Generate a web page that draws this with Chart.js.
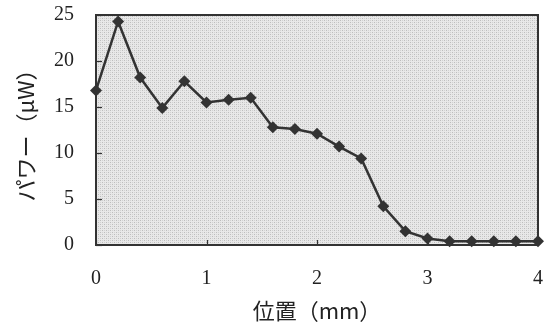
<!DOCTYPE html>
<html>
<head>
<meta charset="utf-8">
<script src="https://cdn.jsdelivr.net/npm/chart.js@4/dist/chart.umd.min.js"></script>
<style>
  html, body { margin: 0; padding: 0; background: #fff; }
  #wrap { width: 557px; height: 329px; }
</style>
</head>
<body>
<div id="wrap"><canvas id="c" width="557" height="329"></canvas></div>
<script>
// Position along the sample (mm) and measured power (µW)
const positions = [0, 0.2, 0.4, 0.6, 0.8, 1.0, 1.2, 1.4, 1.6, 1.8, 2.0, 2.2, 2.4, 2.6, 2.8, 3.0, 3.2, 3.4, 3.6, 3.8, 4.0];
const power = [16.8, 24.3, 18.2, 14.9, 17.8, 15.5, 15.8, 16.0, 12.8, 12.6, 12.1, 10.7, 9.4, 4.2, 1.5, 0.7, 0.4, 0.4, 0.4, 0.4, 0.4];
const xTicks = [0, 1, 2, 3, 4];
const yTicks = [0, 5, 10, 15, 20, 25];

const INK = '#333333';
const NUM_FONT = '"Liberation Serif", "DejaVu Serif", serif';
const CJK_FONT = '"Noto Sans CJK JP", "Noto Sans CJK SC", sans-serif';

// Fine stipple texture for the plotting area
function makeStipple(ctx) {
  const p = document.createElement('canvas');
  p.width = 4; p.height = 4;
  const g = p.getContext('2d');
  g.fillStyle = '#e8e8e8';
  g.fillRect(0, 0, 4, 4);
  g.fillStyle = '#bdbdbd';
  g.fillRect(0, 0, 1, 1);
  g.fillRect(2, 2, 1, 1);
  g.fillStyle = '#d2d2d2';
  g.fillRect(2, 0, 1, 1);
  g.fillRect(0, 2, 1, 1);
  return ctx.createPattern(p, 'repeat');
}

const framePlugin = {
  id: 'frame',
  beforeDatasetsDraw(chart) {
    const { ctx, chartArea: a } = chart;
    ctx.save();
    ctx.fillStyle = makeStipple(ctx);
    ctx.fillRect(a.left, a.top, a.right - a.left, a.bottom - a.top);
    // inward tick marks
    ctx.strokeStyle = INK;
    ctx.lineWidth = 1.2;
    const ys = chart.scales.y, xs = chart.scales.x;
    yTicks.forEach(v => {
      const py = Math.round(ys.getPixelForValue(v)) + 0.5;
      ctx.beginPath(); ctx.moveTo(a.left, py); ctx.lineTo(a.left + 6, py); ctx.stroke();
    });
    xTicks.forEach(v => {
      const px = Math.round(xs.getPixelForValue(v)) + 0.5;
      ctx.beginPath(); ctx.moveTo(px, a.bottom); ctx.lineTo(px, a.bottom - 5); ctx.stroke();
    });
    // frame
    ctx.lineWidth = 2;
    ctx.strokeRect(a.left, a.top, a.right - a.left, a.bottom - a.top);
    ctx.restore();
  }
};

function noPad(s) {
  s.paddingTop = 0; s.paddingBottom = 0; s.paddingLeft = 0; s.paddingRight = 0;
}

new Chart(document.getElementById('c'), {
  type: 'line',
  data: {
    datasets: [{
      data: positions.map((x, i) => ({ x, y: power[i] })),
      borderColor: INK,
      backgroundColor: INK,
      borderWidth: 2.5,
      pointStyle: 'rectRot',
      pointRadius: 6,
      pointBorderWidth: 0,
      tension: 0,
      clip: false
    }]
  },
  options: {
    responsive: false,
    animation: false,
    devicePixelRatio: 1,
    layout: { padding: { left: 0, top: 15, right: 19, bottom: 0 } },
    plugins: { legend: { display: false }, tooltip: { enabled: false } },
    scales: {
      x: {
        type: 'linear',
        min: 0, max: 4,
        afterFit(s) { s.height = 84; noPad(s); },
        afterBuildTicks(s) { s.ticks = xTicks.map(v => ({ value: v })); },
        grid: { display: false, drawTicks: false },
        border: { display: false },
        ticks: { color: '#222', font: { family: NUM_FONT, size: 20 }, padding: 22 },
        title: {
          display: true,
          text: '位置（mm）',
          color: '#222',
          font: { family: CJK_FONT, size: 22 },
          padding: { top: 2, bottom: 5 }
        }
      },
      y: {
        min: 0, max: 25,
        afterFit(s) { s.width = 96; noPad(s); },
        afterBuildTicks(s) { s.ticks = yTicks.map(v => ({ value: v })); },
        grid: { display: false, drawTicks: false },
        border: { display: false },
        ticks: { color: '#222', font: { family: NUM_FONT, size: 20 }, padding: 22 },
        title: {
          display: true,
          text: 'パワー（μW）',
          color: '#222',
          font: { family: CJK_FONT, size: 22 },
          padding: { top: 12, bottom: 0 }
        }
      }
    }
  },
  plugins: [framePlugin]
});
</script>
</body>
</html>
